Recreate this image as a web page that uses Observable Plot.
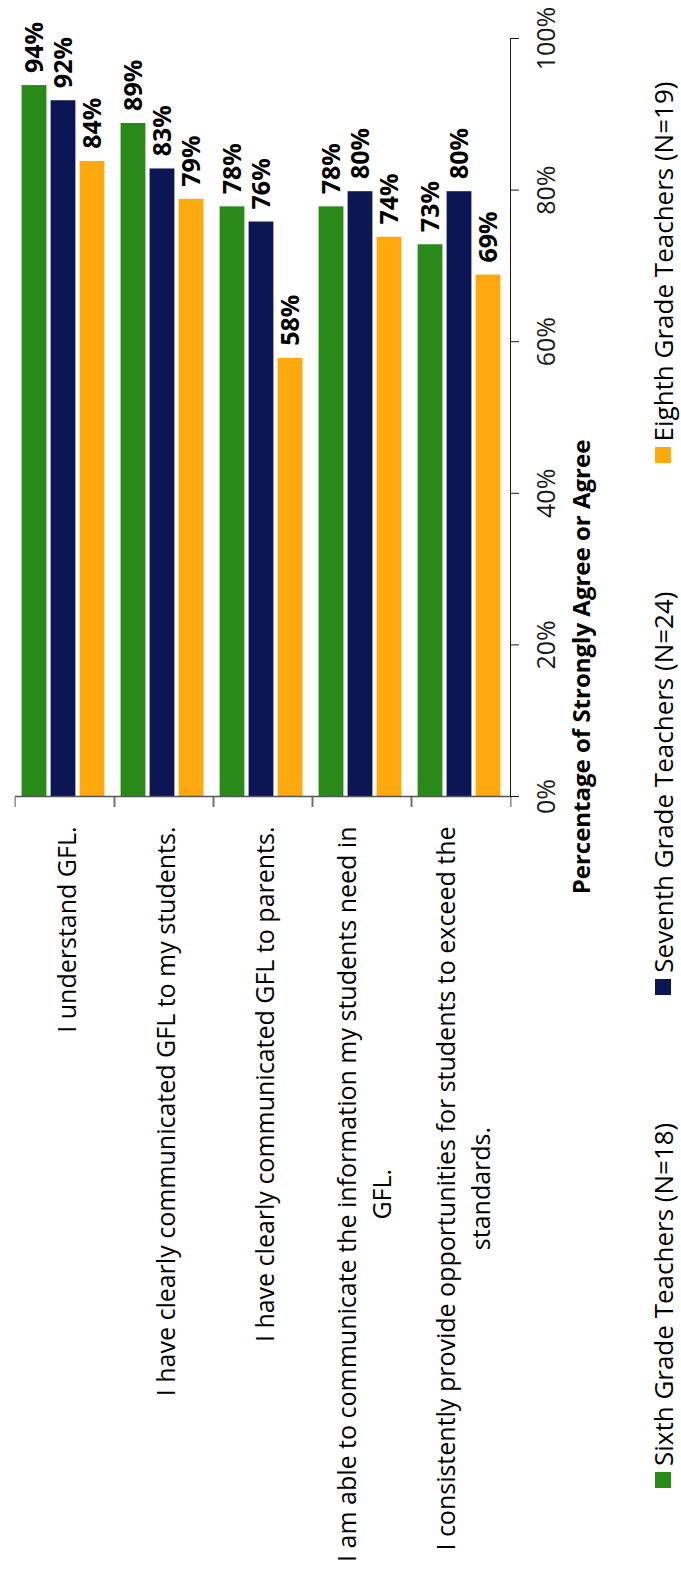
<!DOCTYPE html>
<html>
<head>
<meta charset="utf-8">
<script src="https://cdn.jsdelivr.net/npm/d3@7"></script>
<script src="https://cdn.jsdelivr.net/npm/@observablehq/plot@0.6"></script>
<style>
  html, body { margin: 0; padding: 0; background: #fff; overflow: hidden; }
  #page { position: relative; width: 681px; height: 1595px; overflow: hidden; background: #fff; }
  #rot { position: absolute; left: 0; top: 0; width: 1595px; height: 681px;
         transform-origin: 0 0; transform: translate(0, 1595px) rotate(-90deg);
         font-family: 'Open Sans', sans-serif; color: #000; }
  #chart { position: absolute; left: 0; top: 0; }
  #title { position: absolute; top: 569px; left: 928px; transform: translateX(-50%);
           font-weight: bold; font-size: 24px; line-height: 24px; white-space: nowrap; }
  #legend { position: absolute; top: 650px; left: 107px; display: flex; gap: 128px;
            font-size: 26px; line-height: 26px; white-space: nowrap; }
  .item { display: flex; align-items: center; gap: 6px; }
  .swatch { width: 16px; height: 16px; display: inline-block; }
</style>
</head>
<body>
<div id="page">
  <div id="rot">
    <div id="chart"></div>
    <div id="title"></div>
    <div id="legend"></div>
  </div>
</div>
<script>
const categories = [
  "I understand GFL.",
  "I have clearly communicated GFL to my students.",
  "I have clearly communicated GFL to parents.",
  "I am able to communicate the information my students need in GFL.",
  "I consistently provide opportunities for students to exceed the standards."
];
const categoryLines = [
  ["I understand GFL."],
  ["I have clearly communicated GFL to my students."],
  ["I have clearly communicated GFL to parents."],
  ["I am able to communicate the information my students need in", "GFL."],
  ["I consistently provide opportunities for students to exceed the", "standards."]
];
const series = [
  "Sixth Grade Teachers (N=18)",
  "Seventh Grade Teachers (N=24)",
  "Eighth Grade Teachers (N=19)"
];
const sixth = [94, 89, 78, 78, 73];
const seventh = [92, 83, 76, 80, 80];
const eighth = [84, 79, 58, 74, 69];
const seriesColors = ["#298a1a", "#0c1655", "#ffa90f"];
const xTicks = [0, 20, 40, 60, 80, 100];
const axisTitle = "Percentage of Strongly Agree or Agree";

const values = [sixth, seventh, eighth];
const data = [];
categories.forEach((c, i) => series.forEach((s, j) => data.push({category: c, series: s, value: values[j][i]})));

const W = 1595, H = 575;
const mTop = 13, mBottom = H - 512, mLeft = 798, mRight = 39;
const step = (H - mTop - mBottom) / categories.length;

const ctx = document.createElement("canvas").getContext("2d");
ctx.font = "25px 'Open Sans'";
const firstLineWidth = categoryLines.map(l => ctx.measureText(l[0]).width);

const chart = Plot.plot({
  width: W, height: H,
  marginTop: mTop, marginBottom: mBottom, marginLeft: mLeft, marginRight: mRight,
  style: {fontFamily: "'Open Sans', sans-serif", fontSize: "25px", color: "#1a1a1a", background: "transparent", overflow: "visible"},
  x: {domain: [0, 100], ticks: xTicks, tickFormat: d => d + "%", tickSize: 9, tickPadding: 18, label: null, line: true},
  fy: {domain: categories, padding: 0, label: null},
  y: {domain: series, paddingInner: 0.1, paddingOuter: 0.213, align: 0.39, axis: null},
  color: {domain: series, range: seriesColors},
  marks: [
    Plot.barX(data, {fy: "category", y: "series", x: "value", fill: "series", stroke: "white", strokeWidth: 1.2}),
    Plot.text(data, {fy: "category", y: "series", x: "value", text: d => d.value + "%", textAnchor: "start", dx: 11, fontWeight: "bold", fontSize: 25, fill: "#000"}),
    Plot.ruleX([0], {stroke: "#555", strokeWidth: 1.3}),
    Plot.axisFy({anchor: "left", tickSize: 10, tickFormat: () => "", dy: -step / 2, label: null, stroke: "#555"}),
    Plot.axisFy([categories[categories.length - 1]], {anchor: "left", tickSize: 10, tickFormat: () => "", dy: step / 2, label: null, stroke: "#555"}),
    ...categories.map((c, i) => Plot.text([c], {
      fy: d => d, x: 0, text: () => categoryLines[i].join("\n"),
      textAnchor: "middle", dx: -30 - firstLineWidth[i] / 2, lineHeight: 1.4, fontSize: 25, fill: "#000"
    }))
  ]
});
document.getElementById("chart").appendChild(chart);

document.getElementById("title").textContent = axisTitle;
const legend = document.getElementById("legend");
series.forEach((s, j) => {
  const item = document.createElement("div");
  item.className = "item";
  const sw = document.createElement("span");
  sw.className = "swatch";
  sw.style.background = seriesColors[j];
  const t = document.createElement("span");
  t.textContent = s;
  item.appendChild(sw);
  item.appendChild(t);
  legend.appendChild(item);
});
</script>
</body>
</html>
